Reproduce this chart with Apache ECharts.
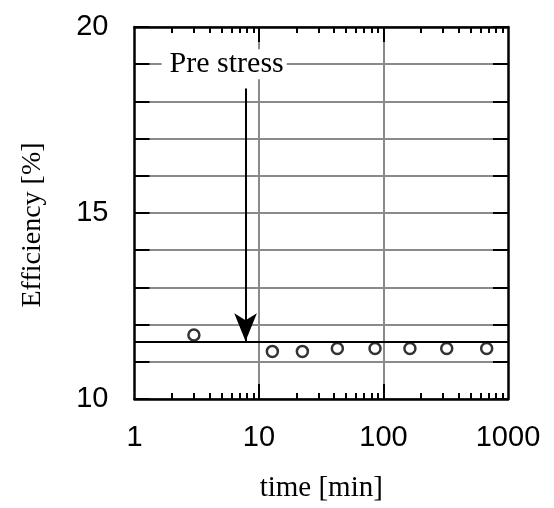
<!DOCTYPE html>
<html>
<head>
<meta charset="utf-8">
<script src="https://cdn.jsdelivr.net/npm/echarts@6/dist/echarts.min.js"></script>
<style>
  html, body { margin: 0; padding: 0; background: #fff; }
  #main { width: 554px; height: 508px; }
</style>
</head>
<body>
<div id="main"></div>
<script>
// data
var timeMin = [3, 12.8, 22.3, 42.6, 85.5, 163, 322, 674];
var efficiency = [11.72, 11.28, 11.28, 11.36, 11.36, 11.36, 11.36, 11.36];
var preStressLevel = 11.55;
var arrowX = 7.8;
var arrowTop = 18.35;
var labelPos = [5.25, 19];

var xMajor = [1, 10, 100, 1000];
var xMinor = [2, 3, 4, 5, 6, 7, 8, 9, 20, 30, 40, 50, 60, 70, 80, 90, 200, 300, 400, 500, 600, 700, 800, 900];
var yLabels = [10, 15, 20];

var points = timeMin.map(function (t, i) { return [t, efficiency[i]]; });

var black = "#000";
var grey = "#8a8a8a";
var sans = "Liberation Sans";
var serif = "Liberation Serif";

function logAxis(pos, major, showLabel, name) {
  return {
    type: "log",
    logBase: 10,
    min: 1,
    max: 1000,
    position: pos,
    name: name || "",
    nameLocation: "middle",
    nameGap: 75,
    nameTextStyle: { fontFamily: serif, fontSize: 29, color: black },
    axisLine: { show: major, lineStyle: { color: black, width: 2.5 } },
    axisTick: {
      show: true,
      inside: true,
      length: major ? 15 : 6,
      customValues: major ? [10, 100] : xMinor,
      lineStyle: { color: black, width: 2 },
    },
    axisLabel: {
      show: showLabel,
      margin: 24,
      fontFamily: sans,
      fontSize: 29,
      color: black,
      customValues: xMajor,
      formatter: function (v) { return String(v); },
    },
    splitLine: { show: major && pos === "bottom", lineStyle: { color: grey, width: 2 } },
    minorTick: { show: false },
  };
}

function valAxis(pos, showLabel, name) {
  return {
    type: "value",
    min: 10,
    max: 20,
    interval: 1,
    position: pos,
    name: name || "",
    nameLocation: "middle",
    nameGap: 88,
    nameTextStyle: { fontFamily: serif, fontSize: 28, color: black, padding: [0, 24, 0, 0] },
    axisLine: { show: true, lineStyle: { color: black, width: 2.5 } },
    axisTick: { show: true, inside: true, length: 15, lineStyle: { color: black, width: 2 } },
    axisLabel: {
      show: showLabel,
      margin: 26,
      fontFamily: sans,
      fontSize: 29,
      color: black,
      formatter: function (v) { return yLabels.indexOf(v) >= 0 ? String(v) : ""; },
    },
    splitLine: { show: pos === "left", lineStyle: { color: grey, width: 2 } },
  };
}

var chart = echarts.init(document.getElementById("main"), null, { renderer: "canvas" });

var option = {
  animation: false,
  backgroundColor: "#fff",
  grid: { left: 134.5, right: 46, top: 27, bottom: 108, containLabel: false },
  xAxis: [
    logAxis("bottom", true, true, "time [min]"),
    logAxis("bottom", false, false),
    logAxis("top", true, false),
    logAxis("top", false, false),
  ],
  yAxis: [
    valAxis("left", true, "Efficiency [%]"),
    valAxis("right", false),
  ],
  series: [
    {
      name: "ref",
      type: "line",
      data: [],
      markLine: {
        silent: true,
        symbol: ["none", "none"],
        label: { show: false },
        lineStyle: { color: black, width: 2, type: "solid" },
        data: [{ yAxis: preStressLevel }],
      },
    },
    {
      name: "arrow",
      type: "line",
      data: [],
      markLine: {
        silent: true,
        symbol: ["none", "arrow"],
        symbolSize: [17, 28],
        label: { show: false },
        lineStyle: { color: black, width: 2, type: "solid" },
        data: [[{ coord: [arrowX, arrowTop] }, { coord: [arrowX, preStressLevel] }]],
      },
      markPoint: {
        silent: true,
        symbol: "rect",
        symbolSize: 0,
        label: {
          show: true,
          position: "inside",
          formatter: "Pre stress",
          fontFamily: serif,
          fontSize: 30,
          color: black,
          backgroundColor: "#fff",
          padding: [0, 3, 0, 8],
        },
        data: [{ coord: labelPos }],
      },
    },
    {
      name: "Efficiency",
      type: "scatter",
      data: points,
      symbol: "circle",
      symbolSize: 11,
      itemStyle: { color: "#fff", borderColor: black, borderWidth: 2.5 },
      z: 5,
    },
  ],
};

chart.setOption(option);
</script>
</body>
</html>
